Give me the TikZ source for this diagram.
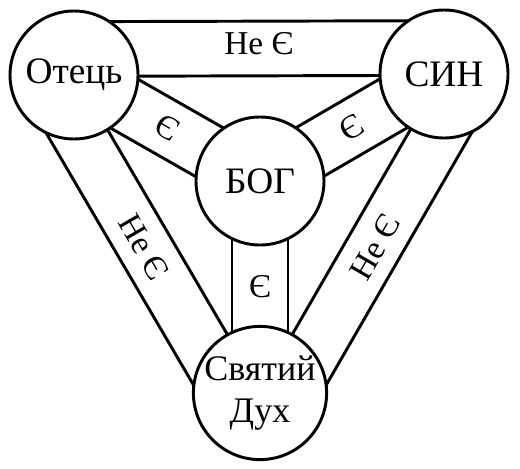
\documentclass[tikz,border=0pt]{standalone}
\usepackage{fontspec}
\setmainfont{Liberation Serif}
\usetikzlibrary{calc}

\tikzset{
    person/.style = {draw, circle, fill=white, line width=2.2pt, minimum size=96pt, inner sep=0pt,
                     align=center, font=\rmfamily\fontsize{28}{32}\selectfont},
    band/.style = {line width=2.2pt},
    rel/.style = {inner sep=0pt, font=\rmfamily\fontsize{25}{30}\selectfont},
}

\begin{document}
\begin{tikzpicture}[x=0.75pt, y=-0.75pt]
    \useasboundingbox (0,0) rectangle (520,468);

    \def \ro {40pt};  % outer edge of the triangle bands
    \def \ri {1pt};   % inner edge
    \def \rw {21pt};  % half width of the spokes

    \coordinate (F) at (74, 75);
    \coordinate (S) at (444, 74);
    \coordinate (G) at (260, 181);
    \coordinate (H) at (260, 393);

    % triangle bands
    \foreach \a/\b/\r/\d in {F/S/0/23pt, S/H/60/20pt, H/F/-60/20pt} {
        \draw[band] ($(\a)!\ro!90:(\b)$) -- ($(\b)!\ro!-90:(\a)$);
        \draw[band] ($(\a)!\ri!-90:(\b)$) -- ($(\b)!\ri!90:(\a)$);
        \path ($(\a)!\d!90:(\b)$) -- ($(\b)!\d!-90:(\a)$) node[rel, midway, rotate=\r] {Не Є};
    }

    % spokes
    \foreach \a/\r in {F/-30, S/30, H/0} {
        \draw[band] ($(G)!\rw!90:(\a)$) -- ($(\a)!\rw!-90:(G)$);
        \draw[band] ($(G)!\rw!-90:(\a)$) -- ($(\a)!\rw!90:(G)$);
        \path (G) -- (\a) node[rel, midway, rotate=\r] {Є};
    }

    \node[person] (father) at (F) {Отець};
    \node[person] (son) at (S) {СИН};
    \node[person] (god) at (G) {БОГ};
    \node[person, font=\rmfamily\fontsize{27}{31}\selectfont] (spirit) at (H) {Святий\\Дух};

\end{tikzpicture}
\end{document}
